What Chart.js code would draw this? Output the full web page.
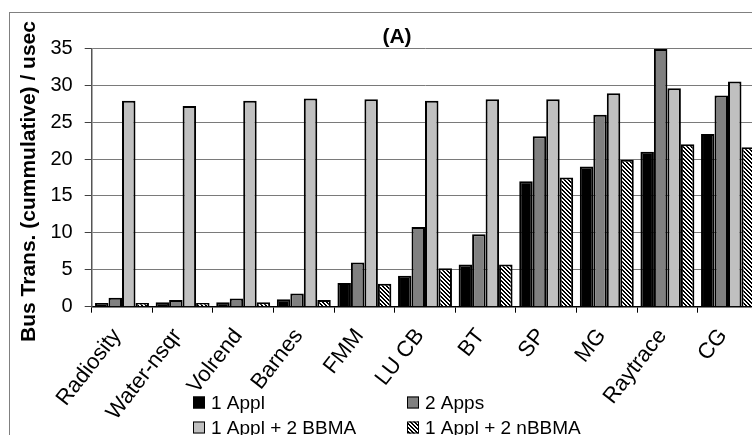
<!DOCTYPE html>
<html><head><meta charset="utf-8">
<script src="https://cdn.jsdelivr.net/npm/chart.js@4.4.1/dist/chart.umd.min.js"></script>
<style>
html,body{margin:0;padding:0;background:#fff;overflow:hidden;width:752px;height:435px;}
#wrap{position:absolute;left:0;top:0;width:770px;height:435px;}
</style></head><body>
<div id="wrap"><canvas id="c" width="770" height="435"></canvas></div>
<script>
const categories = ['Radiosity','Water-nsqr','Volrend','Barnes','FMM','LU CB','BT','SP','MG','Raytrace','CG'];
const seriesNames = ['1 Appl','2 Apps','1 Appl + 2 BBMA','1 Appl + 2 nBBMA'];
const oneAppl = [0.5,0.6,0.6,1.0,3.2,4.2,5.7,17.0,19.0,21.0,23.4];
const twoApps = [1.2,0.9,1.1,1.8,6.0,10.8,9.8,23.1,26.0,34.9,28.6];
const bbma    = [27.9,27.2,27.9,28.2,28.1,27.9,28.1,28.1,28.9,29.6,30.5];
const nbbma   = [0.5,0.5,0.6,0.9,3.1,5.2,5.7,17.5,19.9,22.0,21.6];
const yTicks = [0,5,10,15,20,25,30,35];
const chartTitle = '(A)';
const yTitle = 'Bus Trans. (cummulative) / usec';

const FONT = '"Liberation Sans", Arial, sans-serif';

function makeHatch(){
  const p = document.createElement('canvas');
  p.width = 4; p.height = 4;
  const g = p.getContext('2d');
  const img = g.createImageData(4,4);
  for(let y=0;y<4;y++)for(let x=0;x<4;x++){
    const d = ((x - y) % 4 + 4) % 4;
    const v = (d===0 || d===1) ? 0 : 255;
    const i=(y*4+x)*4; img.data[i]=v;img.data[i+1]=v;img.data[i+2]=v;img.data[i+3]=255;
  }
  g.putImageData(img,0,0);
  return document.getElementById('c').getContext('2d').createPattern(p,'repeat');
}
const hatch = makeHatch();
const fills = ['#000000','#808080','#c0c0c0',hatch];
const seriesData = [oneAppl,twoApps,bbma,nbbma];

const decor = {
  id:'decor',
  beforeDraw(chart){
    const ctx = chart.ctx;
    ctx.save();
    ctx.fillStyle='#fff';
    ctx.fillRect(0,0,chart.width,chart.height);
    ctx.strokeStyle='#808080';
    ctx.lineWidth=1;
    ctx.strokeRect(9.5,12.5,chart.width+20,chart.height+20);
    ctx.restore();
  },
  afterDraw(chart){
    const ctx = chart.ctx;
    ctx.save();
    ctx.fillStyle='#000';
    ctx.font = 'bold 21px ' + FONT;
    ctx.textAlign='center'; ctx.textBaseline='middle';
    ctx.fillText(chartTitle, 397, 37);
    ctx.save();
    ctx.translate(35, 181.5);
    ctx.rotate(-Math.PI/2);
    ctx.font = 'bold 21px ' + FONT;
    ctx.textAlign='center'; ctx.textBaseline='alphabetic';
    ctx.fillText(yTitle, 0, 0);
    ctx.restore();
    const colX=[193,407], rowY=[402.5,427.5];
    ctx.font = '19px ' + FONT;
    ctx.textAlign='left'; ctx.textBaseline='middle';
    chart.data.datasets.forEach((ds,i)=>{
      const x = colX[i%2], y = rowY[Math.floor(i/2)];
      ctx.fillStyle = ds.backgroundColor;
      ctx.fillRect(x, y-6, 12, 12);
      ctx.strokeStyle='#000'; ctx.lineWidth=1;
      ctx.strokeRect(x+0.5, y-5.5, 11, 11);
      ctx.fillStyle='#000';
      ctx.fillText(ds.label, x+18, y+1);
    });
    ctx.restore();
  }
};

new Chart(document.getElementById('c'), {
  type:'bar',
  data:{
    labels: categories,
    datasets: seriesNames.map((n,i)=>({
      label:n,
      data:seriesData[i],
      backgroundColor:fills[i],
      borderColor:'#000',
      borderWidth:2,
      categoryPercentage:0.89,
      barPercentage:1.0
    }))
  },
  options:{
    responsive:false,
    animation:false,
    devicePixelRatio:1,
    layout:{padding:{left:0,top:48.3,right:11.7,bottom:0}},
    plugins:{legend:{display:false},title:{display:false},tooltip:{enabled:false}},
    scales:{
      x:{
        offset:true,
        grid:{display:true,drawOnChartArea:false,drawTicks:true,tickLength:6,tickColor:'#000',offset:true},
        border:{display:true,color:'#000',width:1.5},
        ticks:{autoSkip:false,maxRotation:52,minRotation:52,color:'#000',font:{family:FONT,size:22},padding:11,labelOffset:-5},
        afterFit(s){ s.height = 128.3; }
      },
      y:{
        min:0,max:35,
        afterBuildTicks(s){ s.ticks = yTicks.map(v=>({value:v})); },
        grid:{color:'#7a7a7a',lineWidth:1,tickLength:7,tickColor:'#404040',drawTicks:true},
        border:{display:true,color:'#555',width:1.5},
        ticks:{color:'#000',font:{family:FONT,size:20},padding:12},
        afterFit(s){ s.width = 91.7; }
      }
    }
  },
  plugins:[decor]
});
</script>
</body></html>
